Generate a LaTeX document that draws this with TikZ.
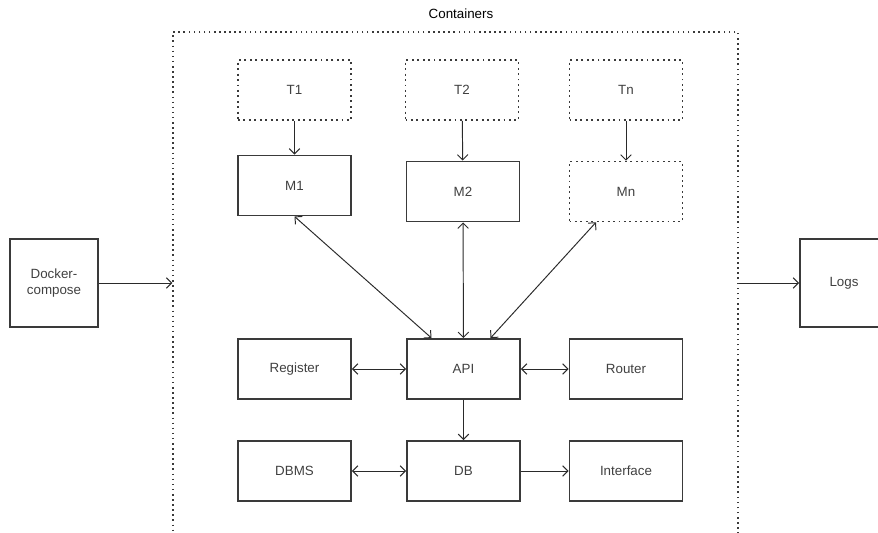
\documentclass[tikz,border=0pt]{standalone}
\usepackage{fontspec}
\setmainfont{Liberation Sans}
\usetikzlibrary{arrows.meta}

\definecolor{boxline}{HTML}{3A3A3A}
\definecolor{txtgray}{HTML}{404040}
\definecolor{linkgray}{HTML}{2A2A2A}

\begin{document}
\begin{tikzpicture}[x=0.02cm, y=-0.02cm,
        box/.style={rectangle, draw=boxline, line width=1.1pt, minimum width=2.26cm, minimum height=1.2cm, inner sep=0pt, text=txtgray, font=\fontsize{7.6}{9}\selectfont},
        dotbox/.style={box, dotted, line width=0.9pt},
        link/.style={draw=linkgray, line width=0.55pt, -{Straight Barb[length=3pt,width=6pt]}},
        both/.style={draw=linkgray, line width=0.55pt, {Straight Barb[length=3pt,width=6pt]}-{Straight Barb[length=3pt,width=6pt]}}]
        \useasboundingbox (0,0) rectangle (878,533);

        % Container frame, open at the bottom of the page
        \node[rectangle, draw=boxline, dotted, line width=0.9pt, minimum width=11.3cm, minimum height=10.56cm, inner sep=0pt] (containers) at (455.5,296) {};
        \node[text=black, font=\fontsize{7.6}{9}\selectfont] (contlabel) at (461,14) {Containers};

        \node[box, minimum width=1.76cm, minimum height=1.76cm, align=center] (docker) at (54,283) {Docker-\\compose};
        \node[box, minimum width=1.76cm, minimum height=1.76cm] (logs) at (844,283) {Logs};

        \node[dotbox] (t1) at (294.5,90) {T1};
        \node[dotbox] (t2) at (462,90) {T2};
        \node[dotbox] (tn) at (626,90) {Tn};

        \node[box] (m1) at (294.5,185.5) {M1};
        \node[box] (m2) at (463,191.5) {M2};
        \node[dotbox] (mn) at (626,191.5) {Mn};

        \node[box] (register) at (294.5,369) {Register};
        \node[box] (api) at (463.5,369) {API};
        \node[box] (router) at (626,369) {Router};

        \node[box] (dbms) at (294.5,471) {DBMS};
        \node[box] (db) at (463.5,471) {DB};
        \node[box] (interface) at (626,471) {Interface};

        \draw[link] (docker.east) -- (docker.east -| containers.west);
        \draw[link] (logs.west -| containers.east) -- (logs.west);

        \draw[link] (t1) -- (m1);
        \draw[link] (t2) -- (m2);
        \draw[link] (tn) -- (mn);

        % Models to API
        \draw[both] (m1.south) -- ([xshift=-0.64cm]api.north);
        \draw[both] (m2) -- (api);
        \draw[both] ([xshift=-0.6cm]mn.south) -- ([xshift=0.54cm]api.north);

        \draw[both] (register) -- (api);
        \draw[both] (api) -- (router);
        \draw[link] (api) -- (db);
        \draw[both] (dbms) -- (db);
        \draw[link] (db) -- (interface);
    \end{tikzpicture}
\end{document}
